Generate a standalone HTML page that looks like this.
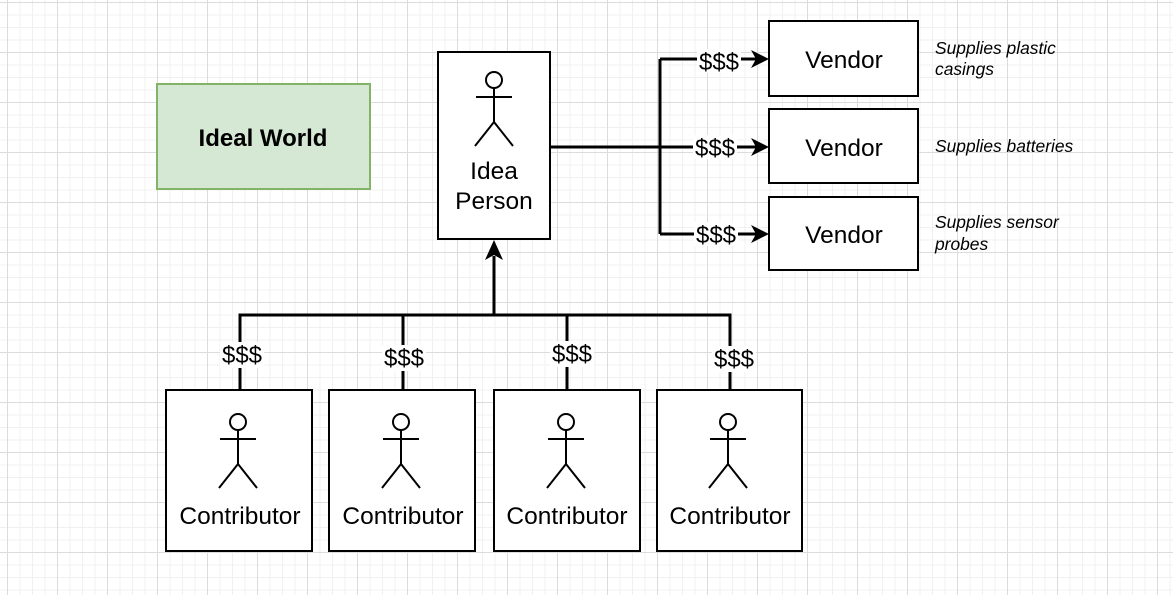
<!DOCTYPE html>
<html><head><style>
html,body{margin:0;padding:0;}
body{width:1173px;height:595px;overflow:hidden;background-color:#fff;
background-image:
linear-gradient(to right,#dcdcdc 1px,transparent 1px),
linear-gradient(to bottom,#dcdcdc 1px,transparent 1px),
linear-gradient(to right,#f0f0f0 1px,transparent 1px),
linear-gradient(to bottom,#f0f0f0 1px,transparent 1px);
background-size:50px 50px,50px 50px,12.5px 12.5px,12.5px 12.5px;
background-position:7px 2px,7px 2px,7px 2px,7px 2px;}
svg{position:absolute;left:0;top:0;}
text{font-family:"Liberation Sans",sans-serif;}
</style></head><body>
<svg width="1173" height="595" viewBox="0 0 1173 595">
<defs>
<g id="actor" fill="none" stroke="#000" stroke-width="2">
<circle cx="0" cy="0" r="8" fill="#fff"/>
<line x1="-18" y1="17" x2="18" y2="17"/>
<line x1="0" y1="8" x2="0" y2="42"/>
<line x1="-19" y1="66" x2="0" y2="42"/>
<line x1="19" y1="66" x2="0" y2="42"/>
</g>
</defs>
<rect x="157" y="84" width="213" height="105" fill="#d5e8d4" stroke="#82b366" stroke-width="2"/>
<text x="263" y="146" font-size="24" font-weight="bold" text-anchor="middle">Ideal World</text>

<rect x="438" y="52" width="112" height="187" fill="#fff" stroke="#000" stroke-width="2"/>
<use href="#actor" x="494" y="80"/>
<text x="494" y="179" font-size="24.5" text-anchor="middle">Idea</text>
<text x="494" y="209" font-size="24.5" text-anchor="middle">Person</text>

<g fill="none" stroke="#000" stroke-width="3">
<path d="M550 147 H660 M660 59 V234 M660 59 H758 M660 147 H758 M660 234 H758"/>
<path d="M240 389 V315 H730 V389 M403 315 V389 M567 315 V389 M494 315 V256"/>
</g>
<g fill="#000">
<path d="M769 59 L751 50 L756 59 L751 68Z"/>
<path d="M769 147 L751 138 L756 147 L751 156Z"/>
<path d="M769 234 L751 225 L756 234 L751 243Z"/>
<path d="M494 240 L485 260 L494 255 L503 260Z"/>
</g>

<g font-size="24" text-anchor="middle">
<rect x="697" y="49" width="44" height="24" fill="#fff"/><text x="719" y="70">$$$</text>
<rect x="693" y="135" width="44" height="24" fill="#fff"/><text x="715" y="156">$$$</text>
<rect x="694" y="222" width="44" height="24" fill="#fff"/><text x="716" y="243">$$$</text>
<rect x="220" y="342" width="44" height="26" fill="#fff"/><text x="242" y="363">$$$</text>
<rect x="382" y="345" width="44" height="26" fill="#fff"/><text x="404" y="366">$$$</text>
<rect x="550" y="341" width="44" height="26" fill="#fff"/><text x="572" y="362">$$$</text>
<rect x="712" y="346" width="44" height="26" fill="#fff"/><text x="734" y="367">$$$</text>
</g>

<g fill="#fff" stroke="#000" stroke-width="2">
<rect x="769" y="21" width="149" height="75"/>
<rect x="769" y="109" width="149" height="74"/>
<rect x="769" y="197" width="149" height="73"/>
<rect x="166" y="390" width="146" height="161"/>
<rect x="329" y="390" width="146" height="161"/>
<rect x="494" y="390" width="146" height="161"/>
<rect x="657" y="390" width="145" height="161"/>
</g>
<g font-size="24.5" text-anchor="middle">
<text x="844" y="68">Vendor</text>
<text x="844" y="156">Vendor</text>
<text x="844" y="243">Vendor</text>
<text x="240" y="524">Contributor</text>
<text x="403" y="524">Contributor</text>
<text x="567" y="524">Contributor</text>
<text x="730" y="524">Contributor</text>
</g>
<use href="#actor" x="238" y="422"/>
<use href="#actor" x="401" y="422"/>
<use href="#actor" x="566" y="422"/>
<use href="#actor" x="728" y="422"/>

<g font-size="17.4" font-style="italic">
<text x="935" y="54">Supplies plastic</text>
<text x="935" y="75">casings</text>
<text x="935" y="152">Supplies batteries</text>
<text x="935" y="228">Supplies sensor</text>
<text x="935" y="250">probes</text>
</g>
</svg>
</body></html>
